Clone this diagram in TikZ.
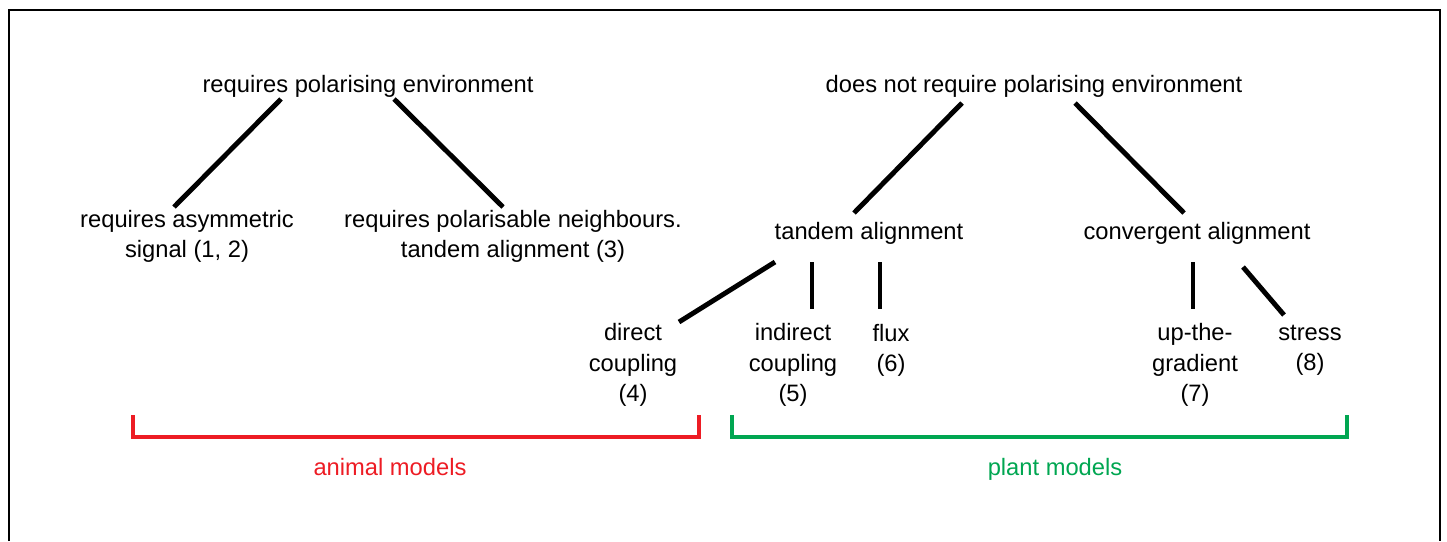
\documentclass[tikz,border=0pt]{standalone}
\usepackage{fontspec}
\setmainfont{Liberation Sans}
\usepackage{xcolor}
\usepackage{tikz}
\usetikzlibrary{calc}

\definecolor{animalred}{RGB}{237,28,36}
\definecolor{plantgreen}{RGB}{0,166,81}

\begin{document}
\begin{tikzpicture}[
    x=0.02cm, y=-0.02cm,
    lbl/.style={inner sep=0pt, align=center, font=\fontsize{13.5}{17.2}\selectfont},
    link/.style={line width=2.8pt},
    brace/.style={line width=2.8pt, miter limit=10},
]
\useasboundingbox (0,0) rectangle (1447,541);
\draw[line width=0.9pt] (9,541) -- (9,10) -- (1440,10) -- (1440,541);

% Roots
\node[lbl] (pe) at (368,86) {requires polarising environment};
\node[lbl] (npe) at (1034,86) {does not require polarising environment};

% Second level
\node[lbl] (asym) at (187,236) {requires asymmetric\\signal (1, 2)};
\node[lbl] (neigh) at (513,236) {requires polarisable neighbours.\\tandem alignment (3)};
\node[lbl] (tandem) at (869,233) {tandem alignment};
\node[lbl] (conv) at (1197,233) {convergent alignment};

% Leaves
\node[lbl] (direct) at (633,365) {direct\\coupling\\(4)};
\node[lbl] (indirect) at (793,365) {indirect\\coupling\\(5)};
\node[lbl] (flux) at (891,350) {flux\\(6)};
\node[lbl] (upgrad) at (1195,365) {up-the-\\gradient\\(7)};
\node[lbl] (stress) at (1310,350) {stress\\(8)};

\draw[link] ($(pe)+(-87,13)$) -- ($(asym)+(-13,-29)$);
\draw[link] ($(pe)+(26,13)$) -- ($(neigh)+(-10,-29)$);
\draw[link] ($(npe)+(-72,17)$) -- ($(tandem)+(-15,-20)$);
\draw[link] ($(npe)+(41,17)$) -- ($(conv)+(-13,-20)$);
\draw[link] ($(tandem)+(-94,29)$) -- ($(direct)+(46,-43)$);
\draw[link] ($(tandem)+(-57,29)$) -- ($(indirect)+(19,-56)$);
\draw[link] ($(tandem)+(11,29)$) -- ($(flux)+(-11,-41)$);
\draw[link] ($(conv)+(-4,29)$) -- ($(upgrad)+(-2,-56)$);
\draw[link] ($(conv)+(46,34)$) -- ($(stress)+(-26,-35)$);

% Model groups
\draw[brace, animalred] (133,415) -- (133,437) -- (699,437) -- (699,415);
\draw[brace, plantgreen] (732,415) -- (732,437) -- (1347,437) -- (1347,415);
\node[lbl, text=animalred] (animal) at (390,467) {animal models};
\node[lbl, text=plantgreen] (plant) at (1055,469) {plant models};
\end{tikzpicture}
\end{document}
